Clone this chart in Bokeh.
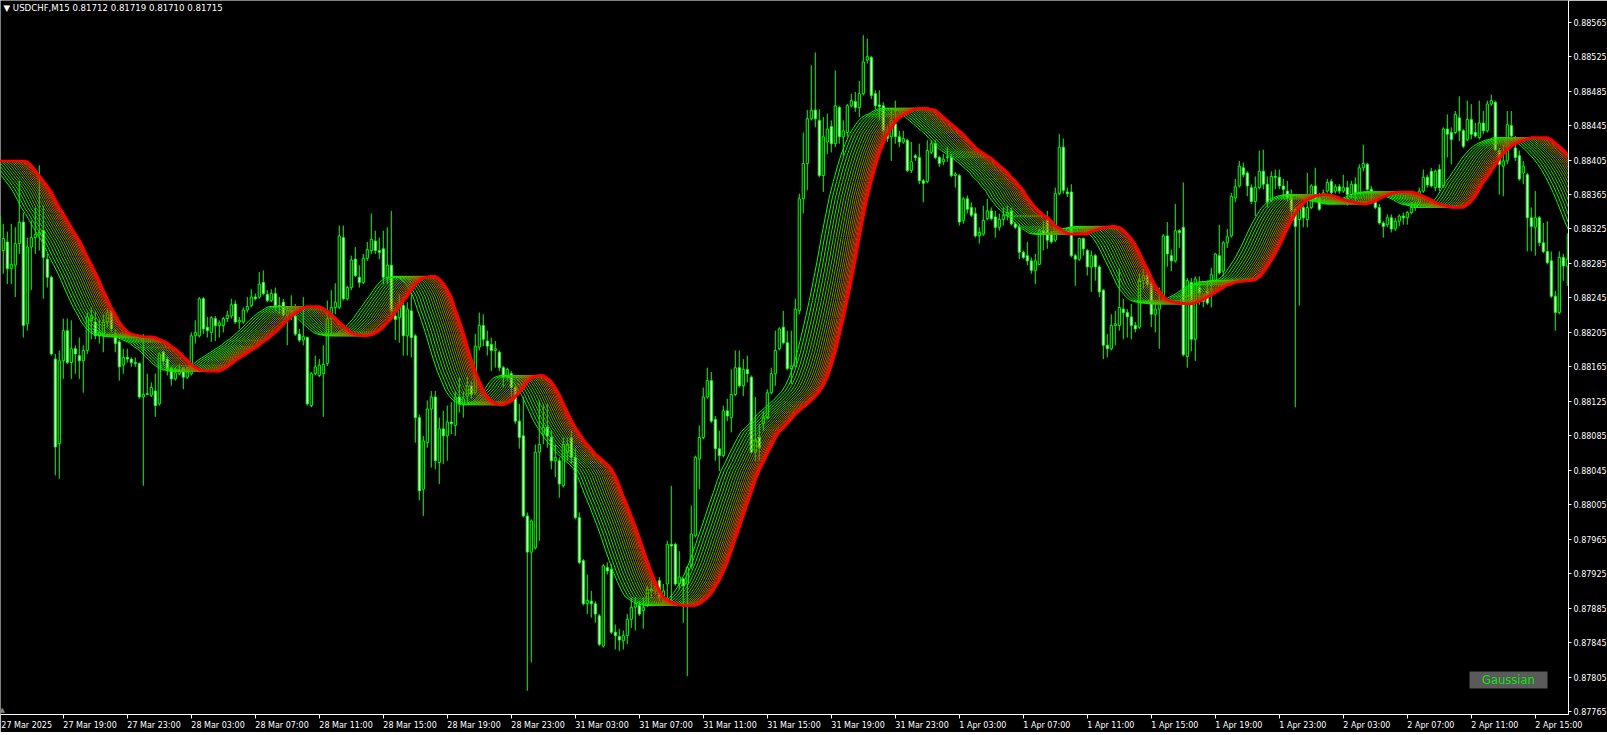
import numpy as np
from bokeh.plotting import figure
from bokeh.models import (Range1d, FixedTicker, PrintfTickFormatter, Label, LinearAxis,
                          BoxAnnotation, ColumnDataSource)
from bokeh.embed import file_html
from bokeh.resources import INLINE

# ---------------- data (prices in points of 0.00001 above 0.88000) ----------------
# one entry per 15-minute bar, 27 Mar 15:00 ... 2 Apr 17:00
open_pts = [
    340,300,310,279,283,308,333,215,304,315, 319,323,290,269,174,76,172,207,170,186,
    178,172,184,219,217,201,203,217,230,203, 194,167,176,174,170,169,130,133,132,137,
    122,182,174,163,151,157,163,153,157,201, 201,244,211,205,221,213,213,221,224,238,
    217,217,231,236,246,246,263,249,242,250, 236,240,225,230,224,203,196,199,120,157,
    155,157,169,221,234,234,315,244,257,290, 269,263,291,300,311,300,302,269,283,224,
    222,236,201,230,201,106,23,77,116,130, 54,93,85,101,97,130,122,131,143,135,
    188,213,195,191,184,182,164,153,157,141, 102,85,-8,-50,-45,66,87,95,83,56,
    56,27,66,83,60,-10,-60,-110,-107,-110, -124,-159,-68,-70,-143,-148,-153,-147,-128,-114,
    -112,-118,-112,-93,-95,-83,-103,-87,-41,-41, -87,-81,-87,-66,-31,58,83,130,149,104,
    70,62,114,106,133,164,143,162,153,66, 83,99,106,135,157,186,211,193,163,166,
    230,360,401,453,463,451,387,426,444,424, 466,432,437,468,473,466,482,521,524,482,
    469,468,439,432,447,432,426,428,393,410, 408,381,380,414,424,408,403,408,408,387,
    387,335,360,350,343,317,319,337,346,339, 327,336,341,346,331,327,298,294,288,277,
    284,323,335,319,312,366,420,368,368,294, 290,314,300,281,294,281,254,190,186,213,
    213,232,228,223,213,211,265,271,263,226, 232,245,317,294,288,323,327,177,263,197,
    257,245,253,263,265,294,276,309,317,361, 375,396,390,373,357,373,392,377,358,386,
    385,375,369,365,348,336,350,336,350,375, 361,365,369,380,369,374,369,373,365,377,
    367,396,400,371,357,350,332,330,338,325, 334,340,338,344,350,356,369,385,392,373,
    394,375,441,437,437,454,439,429,452,437, 431,448,439,470,472,416,398,404,445,419,
    410,390,388,338,327,338,309,299,288,247, 228,292,282]
high_pts = [
    364,331,322,331,327,381,344,315,335,350, 399,352,296,271,180,184,221,221,219,190,
    199,190,228,234,230,221,226,233,236,209, 196,186,186,176,176,170,203,157,147,157,
    182,184,178,165,165,168,165,165,205,219, 246,246,223,224,224,219,223,230,244,242,
    223,234,246,255,250,275,277,254,255,257, 246,244,234,248,238,209,246,200,159,178,
    174,190,242,254,262,329,329,259,294,304, 283,296,310,343,323,315,323,327,346,234,
    249,246,240,251,203,110,85,126,137,137, 106,114,120,124,137,153,137,153,149,203,
    228,226,207,199,195,184,166,164,160,145, 122,130,-4,-12,75,126,122,122,91,75,
    60,83,83,91,71,-4,-58,-76,-95,-107, -122,-64,-62,-64,-134,-139,-141,-122,-103,-103,
    -107,-103,-89,-83,-85,-79,-87,-37,27,-39, -49,-81,-66,4,62,97,141,164,159,108,
    91,120,128,162,184,184,174,178,155,130, 99,114,139,164,207,211,230,207,207,244,
    366,437,463,515,530,464,455,459,451,509, 468,451,470,482,484,497,550,546,526,486,
    486,472,445,464,474,439,439,430,426,412, 424,383,428,428,428,410,412,420,412,391,
    389,362,364,356,350,327,352,360,350,346, 343,350,352,350,333,331,300,310,292,296,
    325,335,346,323,373,435,430,373,377,296, 315,315,302,300,296,283,255,203,226,230,
    279,244,232,238,217,273,279,275,269,238, 257,319,333,301,354,325,379,268,268,270,
    270,249,265,280,297,330,311,325,367,383, 404,402,392,377,386,416,417,386,392,394,
    394,383,381,371,350,354,352,390,377,396, 367,371,383,383,377,377,388,381,381,385,
    400,423,402,375,359,354,334,342,342,338, 342,344,346,356,358,373,394,388,396,394,
    400,443,458,443,462,479,441,474,470,448, 474,462,474,481,474,419,423,462,462,433,
    416,404,390,350,369,340,332,334,299,253, 299,296,320]
low_pts = [
    290,273,261,261,246,296,199,207,254,296, 300,244,257,178,39,35,151,168,151,157,
    151,135,180,197,197,192,182,210,205,182, 149,157,170,165,165,128,27,132,130,107,
    120,167,155,143,149,155,139,151,155,192, 199,203,199,194,195,199,205,217,221,215,
    209,215,228,234,242,244,248,240,240,230, 226,223,190,219,201,194,190,120,118,155,
    153,107,166,203,226,232,242,242,254,269, 257,261,288,296,296,290,261,261,226,196,
    193,178,178,176,77,10,-8,71,48,46, 29,52,56,87,85,112,106,122,128,133,
    184,189,178,160,164,160,141,149,130,99, 70,-10,-211,-178,-47,-37,75,71,46,37,
    13,25,56,52,-12,-64,-112,-122,-126,-132, -159,-161,-76,-145,-163,-165,-163,-157,-138,-141,
    -124,-139,-114,-103,-100,-107,-110,-112,-110,-89, -93,-132,-194,-70,-33,23,81,128,100,56,
    44,60,102,89,131,141,131,147,64,56, 56,91,104,133,143,184,191,161,145,164,
    226,343,370,451,443,385,368,412,414,420, 424,410,432,466,461,455,480,517,476,464,
    451,433,426,404,424,420,424,391,390,404, 377,356,378,412,406,397,399,403,385,373,
    329,331,343,339,315,308,317,335,335,315, 323,329,335,329,325,290,290,283,273,261,
    283,300,302,308,310,364,366,362,292,259, 288,294,271,252,265,246,174,176,184,190,
    207,197,199,197,205,209,255,257,211,205, 186,240,281,276,286,303,177,164,183,172,
    237,234,237,234,263,272,270,303,315,356, 373,385,363,354,340,371,371,350,356,371,
    371,360,357,340,118,236,327,327,348,357, 346,363,367,365,366,366,367,352,361,357,
    365,392,369,354,348,330,315,327,321,323, 328,330,330,342,346,354,367,373,373,369,
    369,373,408,400,435,427,419,427,429,431, 429,435,437,468,416,365,363,400,427,404,
    381,377,299,299,294,305,297,284,245,207, 226,265,259]
close_pts = [
    315,314,279,284,308,333,213,304,315,319, 321,292,269,180,72,172,207,170,186,180,
    172,184,223,224,201,205,217,228,209,192, 165,176,174,170,169,130,133,134,141,120,
    180,172,163,151,158,161,153,159,201,205, 244,209,207,222,213,216,221,225,237,217,
    219,231,235,246,244,261,250,242,250,236, 235,225,230,228,203,196,200,122,157,165,
    167,168,221,234,240,317,244,257,289,271, 263,291,301,313,300,298,269,283,230,220,
    236,201,232,199,106,21,79,116,130,56, 93,85,101,99,130,122,128,143,133,189,
    213,197,189,184,186,164,153,162,141,102, 83,-8,-50,-14,66,75,95,85,56,60,
    29,75,75,60,-10,-62,-110,-106,-110,-122, -157,-66,-72,-143,-147,-152,-147,-128,-114,-110,
    -122,-114,-93,-95,-90,-103,-95,-41,-43,-87, -79,-89,-68,-29,60,83,130,149,102,70,
    62,114,108,133,164,143,162,157,66,80, 71,106,135,157,184,209,193,163,166,232,
    360,401,453,463,453,387,432,441,424,468, 432,439,468,474,466,482,519,525,480,468,
    467,439,430,451,432,426,430,393,403,408, 381,378,416,424,408,401,406,409,387,389,
    333,360,348,341,317,321,335,346,337,327, 336,341,344,331,327,298,292,288,277,288,
    323,319,312,310,366,420,370,366,294,290, 314,302,281,294,281,252,190,186,213,215,
    234,228,223,213,209,265,271,261,226,232, 240,317,296,288,323,321,179,265,197,267,
    251,241,239,272,296,274,309,316,363,374, 398,388,375,357,373,392,377,356,386,385,
    375,371,361,346,328,350,338,350,375,359, 348,367,379,367,374,369,373,365,377,367,
    396,401,371,367,350,332,328,338,325,334, 340,338,344,350,354,369,385,376,375,392,
    373,441,435,429,458,439,421,452,435,433, 448,439,470,474,417,400,404,446,433,408,
    383,398,338,328,338,309,299,286,247,228, 292,282,290]

# slowest (red) Gaussian line, one value per bar
gauss_slow_pts = [
    404,404,404,404,404,404,404,403,399,393, 387,381,375,368,359,350,343,335,327,319,
    312,303,293,284,275,265,254,244,234,226, 217,211,206,203,202,201,200,200,200,199,
    197,195,193,189,186,182,177,173,168,165, 162,161,160,160,160,160,162,165,168,172,
    175,178,181,184,187,190,194,197,201,205, 209,214,219,223,227,230,233,235,235,235,
    235,233,230,226,222,217,213,209,205,203, 202,201,201,202,204,207,211,216,221,228,
    234,241,247,254,260,265,268,269,270,270, 267,262,255,246,232,219,205,189,174,160,
    149,138,131,126,123,121,121,123,125,130, 135,140,147,152,154,155,155,152,148,141,
    133,123,113,103,95,88,81,75,70,64, 60,56,52,47,39,27,15,4,-8,-20,
    -33,-47,-60,-73,-84,-94,-102,-105,-108,-110, -111,-112,-112,-112,-112,-110,-107,-103,-98,-91,
    -83,-73,-62,-49,-35,-22,-8,6,19,33, 45,54,64,73,82,90,94,99,104,110,
    114,118,122,126,131,136,143,153,166,182, 201,221,242,265,289,315,339,362,380,397,
    412,424,435,442,449,454,457,459,462,464, 465,465,465,464,463,459,455,451,447,443,
    439,435,430,425,420,416,413,410,407,403, 399,395,391,385,381,375,370,362,356,350,
    346,341,339,334,329,326,323,320,319,319, 319,319,319,322,323,325,326,327,328,328,
    327,324,319,314,307,298,288,279,269,259, 253,247,243,241,240,239,239,238,238,239,
    241,243,246,248,251,254,257,260,261,263, 264,264,265,265,266,269,274,281,288,296,
    305,315,325,334,342,349,354,359,361,363, 364,365,365,364,363,361,359,358,357,356,
    355,354,354,356,357,360,362,364,366,367, 368,368,368,368,367,365,363,361,359,356,
    354,353,352,350,350,350,350,353,357,363, 371,379,385,392,399,406,412,417,421,424,
    426,428,429,431,431,431,431,431,429,425, 421,417,412]
# where the faster lines are already heading at the right edge
gauss_slow_ahead_pts = [407,401,394,386,377,367,356,344,332,322]
# bars by which each faster line of the ribbon runs ahead of the red one
ribbon_leads = [9.5, 8.71, 7.94, 7.21, 6.50, 5.83, 5.18, 4.57, 3.99, 3.44, 2.92,
                2.45, 2.00, 1.59, 1.23, 0.90, 0.62, 0.38, 0.19, 0.06, 0.0]

price_ticks = [0.87765, 0.87805, 0.87845, 0.87885, 0.87925, 0.87965, 0.88005,
               0.88045, 0.88085, 0.88125, 0.88165, 0.88205, 0.88245, 0.88285,
               0.88325, 0.88365, 0.88405, 0.88445, 0.88485, 0.88525, 0.88565]
time_tick_bars = [16, 32, 48, 64, 80, 96, 112, 128, 144, 160, 176, 192,
                  208, 224, 240, 256, 272, 288, 304, 320, 336, 352, 368, 384]
time_tick_labels = ["27 Mar 19:00", "27 Mar 23:00", "28 Mar 03:00", "28 Mar 07:00",
                    "28 Mar 11:00", "28 Mar 15:00", "28 Mar 19:00", "28 Mar 23:00",
                    "31 Mar 03:00", "31 Mar 07:00", "31 Mar 11:00", "31 Mar 15:00",
                    "31 Mar 19:00", "31 Mar 23:00", "1 Apr 03:00", "1 Apr 07:00",
                    "1 Apr 11:00", "1 Apr 15:00", "1 Apr 19:00", "1 Apr 23:00",
                    "2 Apr 03:00", "2 Apr 07:00", "2 Apr 11:00", "2 Apr 15:00"]
first_label = "27 Mar 2025"
header_text = "\u25BC USDCHF,M15  0.81712 0.81719 0.81710 0.81715"

# ---------------- build ----------------
BASE, PT = 0.88, 1e-5
o = BASE + np.array(open_pts) * PT
c = BASE + np.array(close_pts) * PT
h = np.maximum(BASE + np.array(high_pts) * PT, np.maximum(o, c))
l = np.minimum(BASE + np.array(low_pts) * PT, np.minimum(o, c))
n = len(c)
idx = np.arange(n)

FONT = "DejaVu Sans"
LIME = "#00FF00"
LBL_PX = 8

x0, x1 = 0.3, 392.3
p = figure(frame_width=1568, frame_height=714, x_range=Range1d(x0, x1),
           y_range=Range1d(0.877615, 0.885902),
           output_backend="svg", toolbar_location=None,
           y_axis_location="right",
           background_fill_color="black", border_fill_color="black",
           min_border=0, min_border_left=0, min_border_right=0,
           min_border_top=0, min_border_bottom=0)
p.outline_line_color = None
p.grid.visible = False

# candles
src = ColumnDataSource(dict(x=idx, o=o, c=c, h=h, l=l,
                            top=np.maximum(o, c), bottom=np.minimum(o, c),
                            fill=np.where(c >= o, "black", "white")))
p.segment(x0="x", y0="l", x1="x", y1="h", source=src, line_color=LIME, line_width=1)
p.vbar(x="x", top="top", bottom="bottom", width=0.55, source=src,
       fill_color="fill", line_color=LIME, line_width=1)

# Gaussian ribbon
slow = BASE + np.array(gauss_slow_pts + gauss_slow_ahead_pts) * PT
xs_all = np.arange(len(slow))
N = len(ribbon_leads)
for k, lead in enumerate(ribbon_leads):
    t = k / (N - 1)
    col = "#%02x%02x00" % (int(round(255 * t)), int(round(255 * (1 - t))))
    lw = 2.6 if k == N - 1 else (1.3 if k >= N - 4 else 1)
    p.line(xs_all - lead, slow, line_color=col, line_width=lw)

def style_axis(ax):
    ax.axis_line_color = "white"
    ax.major_tick_line_color = "white"
    ax.major_tick_in = 0
    ax.minor_tick_line_color = None
    ax.major_label_text_color = "white"
    ax.major_label_text_font = FONT
    ax.major_label_text_font_size = "%spx" % LBL_PX
    ax.axis_label = None
    ax.axis_label_standoff = 0

# price axis (right)
ya = p.yaxis[0]
style_axis(ya)
ya.ticker = FixedTicker(ticks=price_ticks)
ya.formatter = PrintfTickFormatter(format="%.5f")
ya.major_tick_out = 3
ya.major_label_standoff = 2

# time axis: tick marks at the bars (its own labels are not drawn) ...
xa = p.xaxis[0]
style_axis(xa)
xa.ticker = FixedTicker(ticks=time_tick_bars)
xa.major_tick_out = 4
xa.major_label_standoff = 0
xa.major_label_text_color = None
xa.major_label_text_font_size = "1px"

# ... and labels that start at their tick (MT4 style), placed by their centres
DV_W = {" ": 0.318, ":": 0.337, "M": 0.863, "a": 0.613, "r": 0.411, "A": 0.684, "p": 0.635}
def text_w(s):
    return sum(DV_W.get(ch, 0.636) for ch in s) * LBL_PX
px_per_bar = 4.0
centres, over = [], {}
for b, lab in [(x0 + 0.2, first_label)] + list(zip(time_tick_bars, time_tick_labels)):
    cx = round(b + text_w(lab) / 2 / px_per_bar, 2)
    centres.append(cx)
    over[cx] = lab
xb = LinearAxis(ticker=FixedTicker(ticks=centres), major_label_overrides=over)
style_axis(xb)
xb.axis_line_color = None
xb.major_tick_line_color = None
xb.major_tick_out = 0
xb.major_label_standoff = 2
p.add_layout(xb, "below")

# header text
p.add_layout(Label(x=3, y=0.885902, x_units="screen", y_units="data", text=header_text,
                   text_color="white", text_font=FONT, text_font_size="8.6px",
                   text_baseline="top", y_offset=-2))

# chart-shift marker at the bottom-left corner
p.add_layout(Label(x=-1, y=1, x_units="screen", y_units="screen", text="\u25B2",
                   text_color="#8a8a8a", text_font=FONT, text_font_size="7px",
                   text_baseline="bottom"))

# "Gaussian" button
p.add_layout(BoxAnnotation(left=367.55, right=387.05, bottom=0.877917, top=0.878114,
                           fill_color="#5a5a5a", fill_alpha=1.0, line_color=None))
p.add_layout(Label(x=377.3, y=0.8780155, text="Gaussian", text_color="#10E010",
                   text_font=FONT, text_font_size="11.5px",
                   text_align="center", text_baseline="middle"))

open("out.html", "w").write(file_html(p, INLINE))
